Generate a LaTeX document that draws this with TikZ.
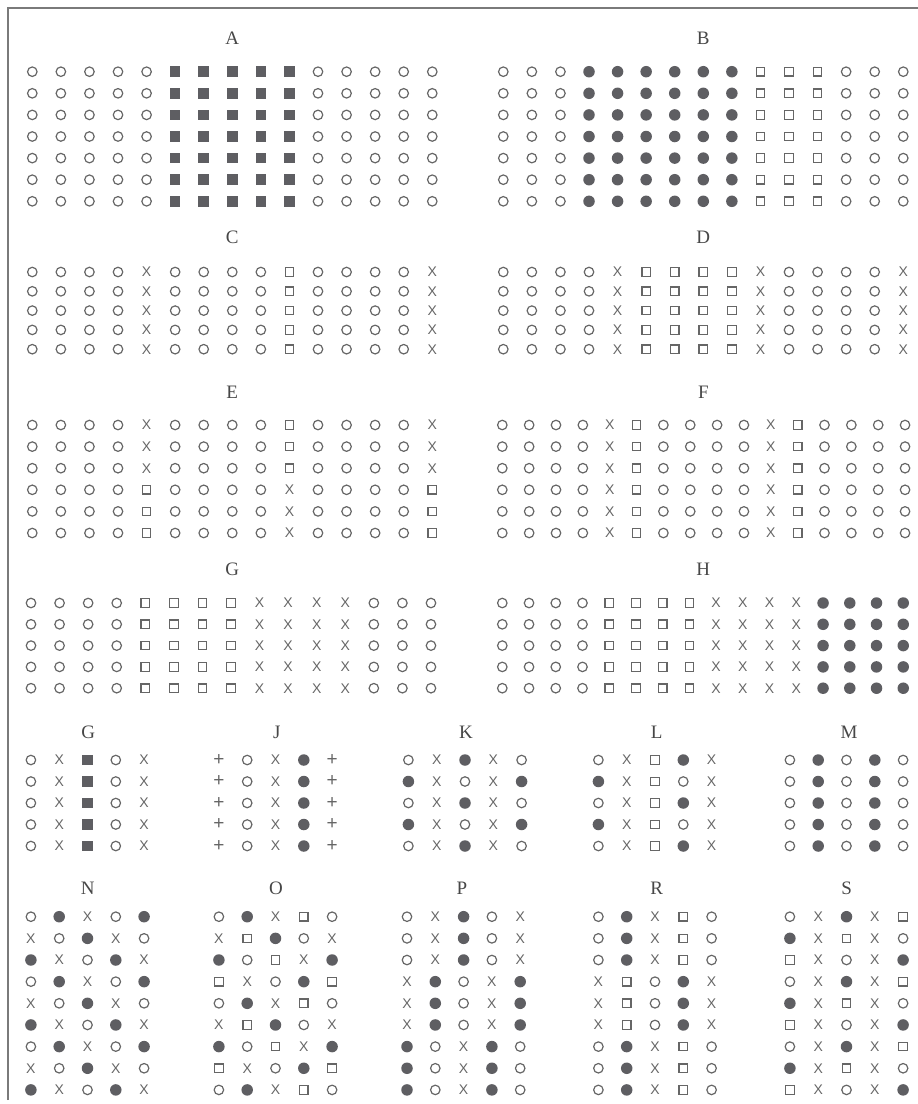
\documentclass[tikz,border=0pt]{standalone}
\usepackage{fontspec}
\newfontfamily\labelfont{Liberation Serif}
\newfontfamily\glyphfont{Liberation Sans}
\definecolor{symline}{HTML}{666666}
\definecolor{symfill}{HTML}{5E5E62}
\definecolor{titlegray}{HTML}{474747}
\definecolor{framegray}{HTML}{7A7A7A}

% text of the letter symbols, the others are empty
\newcommand\glyphx{X}
\newcommand\glyphp{+}

\tikzset{
  symo/.style={circle, draw=symline, line width=1.2pt, minimum size=9.5pt, inner sep=0pt},
  symf/.style={circle, fill=symfill, minimum size=11.5pt, inner sep=0pt},
  syms/.style={rectangle, draw=symline, line width=1.2pt, minimum size=8.5pt, inner sep=0pt},
  symq/.style={rectangle, fill=symfill, minimum size=10.5pt, inner sep=0pt},
  symx/.style={inner sep=0pt, text=symline, font=\glyphfont\fontsize{14}{14}\selectfont},
  symp/.style={inner sep=0pt, text=symline, font=\glyphfont\fontsize{19}{19}\selectfont},
  paneltitle/.style={text=titlegray, font=\labelfont\fontsize{19}{19}\selectfont},
}

% name, x0, y0, dx, dy, rows
\newcommand\symgrid[6]{%
  \foreach \r [count=\j from 0] in {#6} {
    \foreach \c [count=\i from 0] in \r
      \node[sym\c] (#1-\j-\i) at ({#2+\i*#4},{#3+\j*#5}) {\csname glyph\c\endcsname};
  }%
}
% name, x0, y0, dx, dy, number of rows, one row
\newcommand\symrows[7]{%
  \foreach \j in {1,...,#6}
    \foreach \c [count=\i from 0] in {#7}
      \node[sym\c] (#1-\j-\i) at ({#2+\i*#4},{#3+(\j-1)*#5}) {\csname glyph\c\endcsname};
}

\begin{document}
\begin{tikzpicture}[x=1pt,y=-1pt]
\useasboundingbox (0,0) rectangle (918,1104);
\draw[framegray, line width=1.5pt] (8,1100) -- (8,8) -- (918,8);

% large panels
\node[paneltitle] (titleA) at (232.3,38) {A};
\node[paneltitle] (titleB) at (703.3,38) {B};
\symrows{A}{32.3}{71.7}{28.57}{21.6}{7}{o,o,o,o,o,q,q,q,q,q,o,o,o,o,o}
\symrows{B}{503.3}{71.7}{28.57}{21.6}{7}{o,o,o,f,f,f,f,f,f,s,s,s,o,o,o}

\node[paneltitle] (titleC) at (232.3,237) {C};
\node[paneltitle] (titleD) at (703.3,237) {D};
\symrows{C}{32.3}{272}{28.57}{19.3}{5}{o,o,o,o,x,o,o,o,o,s,o,o,o,o,x}
\symrows{D}{503.3}{272}{28.57}{19.3}{5}{o,o,o,o,x,s,s,s,s,x,o,o,o,o,x}

\node[paneltitle] (titleE) at (232.3,392) {E};
\node[paneltitle] (titleF) at (703.3,392) {F};
\symrows{Et}{32.3}{425}{28.57}{21.6}{3}{o,o,o,o,x,o,o,o,o,s,o,o,o,o,x}
\symrows{Eb}{32.3}{489.8}{28.57}{21.6}{3}{o,o,o,o,s,o,o,o,o,x,o,o,o,o,s}
\symrows{F}{502.3}{425}{26.85}{21.6}{6}{o,o,o,o,x,s,o,o,o,o,x,s,o,o,o,o}

\node[paneltitle] (titleG) at (232.3,569) {G};
\node[paneltitle] (titleH) at (703.3,569) {H};
\symrows{G}{31}{603}{28.57}{21.3}{5}{o,o,o,o,s,s,s,s,x,x,x,x,o,o,o}
\symrows{H}{502.3}{603}{26.73}{21.3}{5}{o,o,o,o,s,s,s,s,x,x,x,x,f,f,f,f}

% small panels, first row
\node[paneltitle] (titleGs) at (88.3,732) {G};
\node[paneltitle] (titleJ) at (276.7,732) {J};
\node[paneltitle] (titleK) at (466,732) {K};
\node[paneltitle] (titleL) at (656.7,732) {L};
\node[paneltitle] (titleM) at (849,732) {M};
\symrows{Gs}{30.9}{760}{28.3}{21.5}{5}{o,x,q,o,x}
\symrows{J}{218.9}{760}{28.3}{21.5}{5}{p,o,x,f,p}
\symgrid{K}{408.4}{760}{28.3}{21.5}{{o,x,f,x,o},{f,x,o,x,f},{o,x,f,x,o},{f,x,o,x,f},{o,x,f,x,o}}
\symgrid{L}{598.4}{760}{28.3}{21.5}{{o,x,s,f,x},{f,x,s,o,x},{o,x,s,f,x},{f,x,s,o,x},{o,x,s,f,x}}
\symrows{M}{789.9}{760}{28.3}{21.5}{5}{o,f,o,f,o}

% small panels, second row
\node[paneltitle] (titleN) at (87.7,888) {N};
\node[paneltitle] (titleO) at (276,888) {O};
\node[paneltitle] (titleP) at (462,888) {P};
\node[paneltitle] (titleR) at (656.7,888) {R};
\node[paneltitle] (titleS) at (846.7,888) {S};
\symgrid{N}{30.9}{916.7}{28.3}{21.65}{{o,f,x,o,f},{x,o,f,x,o},{f,x,o,f,x},{o,f,x,o,f},{x,o,f,x,o},{f,x,o,f,x},{o,f,x,o,f},{x,o,f,x,o},{f,x,o,f,x}}
\symgrid{O}{218.9}{916.7}{28.3}{21.65}{{o,f,x,s,o},{x,s,f,o,x},{f,o,s,x,f},{s,x,o,f,s},{o,f,x,s,o},{x,s,f,o,x},{f,o,s,x,f},{s,x,o,f,s},{o,f,x,s,o}}
\symgrid{P}{407}{916.7}{28.3}{21.65}{{o,x,f,o,x},{o,x,f,o,x},{o,x,f,o,x},{x,f,o,x,f},{x,f,o,x,f},{x,f,o,x,f},{f,o,x,f,o},{f,o,x,f,o},{f,o,x,f,o}}
\symgrid{R}{598.4}{916.7}{28.3}{21.65}{{o,f,x,s,o},{o,f,x,s,o},{o,f,x,s,o},{x,s,o,f,x},{x,s,o,f,x},{x,s,o,f,x},{o,f,x,s,o},{o,f,x,s,o},{o,f,x,s,o}}
\symgrid{S}{789.9}{916.7}{28.3}{21.65}{{o,x,f,x,s},{f,x,s,x,o},{s,x,o,x,f},{o,x,f,x,s},{f,x,s,x,o},{s,x,o,x,f},{o,x,f,x,s},{f,x,s,x,o},{s,x,o,x,f}}
\end{tikzpicture}
\end{document}
